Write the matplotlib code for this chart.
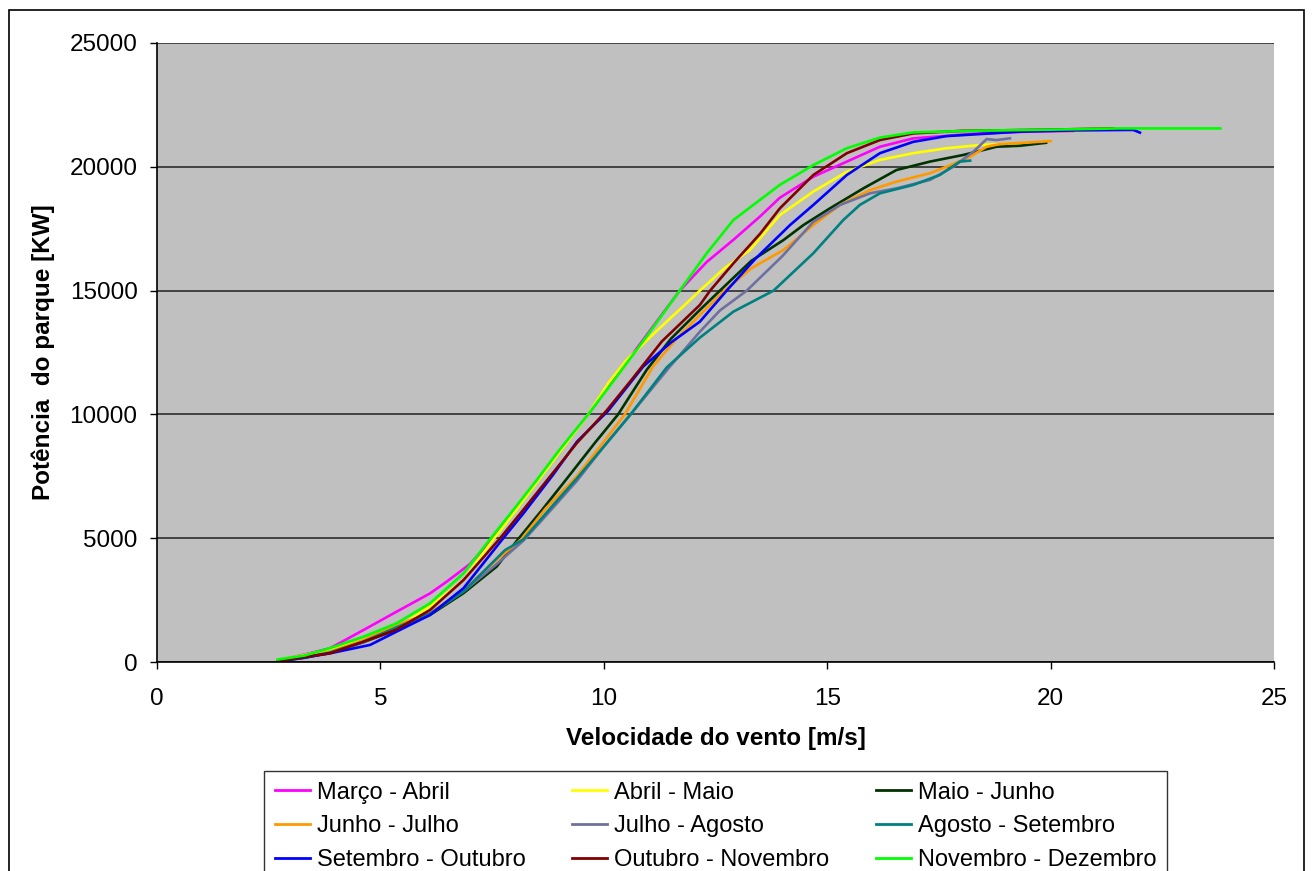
import matplotlib.pyplot as plt
from matplotlib.patches import Rectangle

plt.rcParams['font.family'] = ['Liberation Sans', 'DejaVu Sans']
plt.rcParams['font.size'] = 17.5

# curva de potencia do parque por periodo (velocidade m/s, potencia kW)
marco_abril_v = [2.7, 3.3, 3.87, 4.62, 5.36, 6.11, 6.48, 7.0, 7.5, 8.0, 8.5, 9.0, 9.65, 10.3, 11.0, 11.7,
                 12.3, 12.9, 13.5, 13.94, 14.69, 15.44, 16.18, 16.93, 18.42, 19.5, 20.5]
marco_abril_p = [60, 300, 553, 1290, 2030, 2770, 3240, 3950, 4950, 6100, 7300, 8500, 10000, 11600, 13300, 15000,
                 16150, 17050, 18000, 18750, 19600, 20210, 20810, 21150, 21350, 21420, 21450]

abril_maio_v = [2.7, 3.3, 3.87, 4.62, 5.36, 6.11, 6.86, 7.55, 8.0, 8.5, 9.0, 9.65, 10.1, 10.51, 11.2, 11.93,
                12.15, 12.7, 13.27, 13.94, 14.69, 15.44, 16.18, 16.93, 17.67, 18.42, 19.31, 19.9]
abril_maio_p = [70, 280, 520, 880, 1370, 2240, 3310, 5000, 6050, 7250, 8450, 10000, 11260, 12200, 13400, 14620,
                15000, 15900, 16640, 18050, 19000, 19800, 20280, 20550, 20750, 20880, 20950, 20980]

maio_junho_v = [2.7, 3.3, 3.87, 4.62, 5.36, 6.11, 6.86, 7.6, 8.1, 8.6, 9.17, 9.8, 10.32, 10.96, 11.5, 12.15,
                12.6, 13.3, 14.02, 14.47, 15.06, 15.81, 16.55, 17.3, 18.05, 18.79, 19.31, 19.9]
maio_junho_p = [30, 180, 380, 800, 1300, 1900, 2780, 3850, 5000, 6100, 7400, 8850, 10000, 11800, 13050, 14220,
                15000, 16200, 17040, 17650, 18320, 19130, 19870, 20210, 20480, 20810, 20850, 20970]

junho_julho_v = [2.7, 3.3, 3.87, 4.62, 5.36, 6.11, 6.86, 7.6, 8.15, 8.7, 9.39, 10.0, 10.47, 11.1, 11.6, 12.15,
                 12.7, 13.3, 14.02, 14.69, 15.29, 15.96, 16.55, 17.3, 17.67, 18.2, 18.57, 18.87, 19.5, 20.0]
junho_julho_p = [40, 200, 420, 880, 1500, 1970, 2920, 4120, 4950, 6200, 7490, 8900, 10000, 11930, 13000, 14015,
                 15000, 15900, 16640, 17650, 18460, 19060, 19400, 19740, 20000, 20410, 20810, 20920, 20980, 21040]

julho_agosto_v = [2.7, 3.3, 3.87, 4.62, 5.36, 6.11, 6.86, 7.6, 8.2, 8.7, 9.39, 10.0, 10.6, 11.48, 12.15,
                  12.6, 13.2, 14.0, 14.69, 15.29, 15.96, 16.55, 17.3, 17.82, 18.27, 18.57, 18.79, 19.09]
julho_agosto_p = [30, 170, 380, 800, 1380, 1950, 2850, 3950, 4900, 5900, 7300, 8700, 10000, 11930, 13340,
                  14200, 15000, 16400, 17780, 18460, 18930, 19130, 19470, 20000, 20610, 21120, 21080, 21150]

agosto_setembro_v = [2.7, 3.3, 3.87, 4.62, 5.36, 6.11, 6.86, 7.79, 8.2, 8.8, 9.39, 10.0, 10.6, 11.41, 12.15,
                     12.9, 13.8, 14.69, 15.36, 15.73, 16.18, 16.93, 17.52, 17.97, 18.2]
agosto_setembro_p = [30, 170, 380, 820, 1400, 1950, 2850, 4520, 4950, 6200, 7400, 8700, 10000, 11900, 13100,
                     14150, 15000, 16510, 17850, 18460, 18930, 19270, 19670, 20210, 20250]

setembro_outubro_v = [2.7, 3.3, 3.87, 4.77, 5.36, 6.11, 6.86, 7.75, 8.2, 8.86, 9.4, 10.1, 10.88, 11.5, 12.15,
                      12.75, 13.4, 14.17, 14.69, 15.44, 16.18, 16.93, 17.67, 19.31, 20.5, 21.85, 22.0]
setembro_outubro_p = [20, 180, 350, 690, 1225, 1900, 2980, 5000, 6000, 7550, 8900, 10150, 11930, 12900, 13745,
                      15000, 16300, 17650, 18460, 19670, 20550, 21010, 21240, 21420, 21470, 21490, 21380]

outubro_novembro_v = [2.7, 3.3, 3.87, 4.62, 5.36, 6.11, 6.86, 7.68, 8.2, 8.8, 9.4, 10.06, 10.6, 11.3, 12.15,
                      12.38, 12.9, 13.5, 13.94, 14.69, 15.44, 16.18, 16.93, 18.0, 20.0, 21.4]
outubro_novembro_p = [30, 200, 350, 820, 1310, 2100, 3310, 5000, 6150, 7500, 8850, 10150, 11350, 12950, 14420,
                      15000, 16100, 17300, 18320, 19670, 20550, 21080, 21350, 21450, 21500, 21550]

novembro_dezembro_v = [2.7, 3.3, 3.87, 4.62, 5.36, 6.11, 6.86, 7.45, 8.0, 8.5, 9.0, 9.65, 10.3, 11.0, 11.7,
                       12.3, 12.9, 13.94, 14.69, 15.44, 16.18, 16.93, 18.42, 20.0, 21.5, 23.8]
novembro_dezembro_p = [100, 260, 560, 1020, 1560, 2370, 3580, 4950, 6200, 7350, 8550, 10000, 11550, 13250, 15000,
                       16500, 17850, 19270, 20070, 20750, 21180, 21390, 21460, 21500, 21550, 21550]

series = [
    ("Março - Abril", marco_abril_v, marco_abril_p, "#FF00FF"),
    ("Abril - Maio", abril_maio_v, abril_maio_p, "#FFFF00"),
    ("Maio - Junho", maio_junho_v, maio_junho_p, "#003300"),
    ("Junho - Julho", junho_julho_v, junho_julho_p, "#FF9900"),
    ("Julho - Agosto", julho_agosto_v, julho_agosto_p, "#7070A0"),
    ("Agosto - Setembro", agosto_setembro_v, agosto_setembro_p, "#008080"),
    ("Setembro - Outubro", setembro_outubro_v, setembro_outubro_p, "#0000FF"),
    ("Outubro - Novembro", outubro_novembro_v, outubro_novembro_p, "#800000"),
    ("Novembro - Dezembro", novembro_dezembro_v, novembro_dezembro_p, "#00FF00"),
]

W, H = 1312, 871
fig = plt.figure(figsize=(W / 100, H / 100), dpi=100)
ax = fig.add_axes([157 / W, 1 - 662 / H, (1274 - 157) / W, (662 - 43) / H])
ax.set_facecolor("#C0C0C0")

linhas = []
for name, v, p, cor in series:
    ln, = ax.plot(v, p, color=cor, lw=1.9, label=name, solid_joinstyle="round")
    linhas.append(ln)

ax.set_xlim(0, 25)
ax.set_ylim(0, 25000)
ax.set_xticks(range(0, 26, 5))
ax.set_yticks(range(0, 25001, 5000))
ax.grid(axis="y", color="#383838", lw=1.3)
ax.set_axisbelow(True)
for s in ["top", "right"]:
    ax.spines[s].set_visible(False)
ax.spines["left"].set_linewidth(1.2)
ax.spines["bottom"].set_linewidth(1.2)
ax.tick_params(direction="out", length=5, width=1, color="black")
ax.tick_params(axis="y", pad=9)
ax.tick_params(axis="x", pad=14)

ax.set_xlabel("Velocidade do vento [m/s]", fontweight="bold")
ax.set_ylabel("Potência  do parque [KW]", fontweight="bold")
ax.xaxis.set_label_coords(0.5, -0.105)
ax.yaxis.set_label_coords(-0.091, 0.5)

# legenda preenchida por linhas (3 por linha)
ordem = [0, 3, 6, 1, 4, 7, 2, 5, 8]
leg = fig.legend([linhas[i] for i in ordem], [series[i][0] for i in ordem],
                 loc="upper left", bbox_to_anchor=(264 / W, 1 - 771 / H), bbox_transform=fig.transFigure,
                 ncol=3, frameon=True, fancybox=False, edgecolor="black", borderaxespad=0, fontsize=17,
                 handlelength=1.5, handletextpad=0.3, columnspacing=1.95, labelspacing=0.5, borderpad=0.45)
leg.get_frame().set_linewidth(1.0)
for ln in leg.get_lines():
    ln.set_linewidth(2.0)

# moldura exterior do grafico
fig.patches.append(Rectangle((8.5 / W, -0.05), (1304 - 8.5) / W, 1.05 - 10.5 / H, transform=fig.transFigure,
                             fill=False, edgecolor="black", lw=1.2))

fig.savefig("out.png", dpi=100)
